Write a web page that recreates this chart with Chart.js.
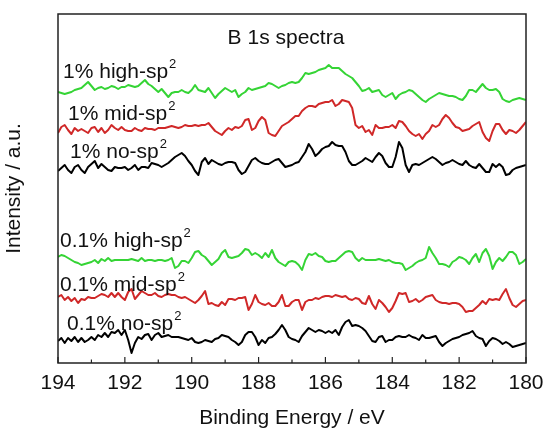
<!DOCTYPE html>
<html>
<head>
<meta charset="utf-8">
<script src="https://cdn.jsdelivr.net/npm/chart.js@4.4.1/dist/chart.umd.min.js"></script>
<style>
  body { margin: 0; background: #fff; }
  #wrap { width: 544px; height: 429px; }
</style>
</head>
<body>
<div id="wrap"><canvas id="spectra" width="544" height="429"></canvas></div>
<script>
// binding energy axis, 0.1 eV step from 194 down to 180
const energies = [];
for (let i = 0; i <= 140; i++) energies.push(+(194 - i * 0.1).toFixed(1));

// B 1s intensities (a.u., curves already offset for stacking)
const high1 = [271,270,269,270,271,273,274,275,278,281, 277,273,275,276,274,275,277,276,274,276,
  276,278,277,276,277,280,283,279,277,274, 271,274,270,266,270,271,271,273,271,270,
  273,278,273,272,271,275,270,265,269,272, 275,273,271,273,266,269,271,275,273,274,
  275,276,277,280,279,277,275,277,278,280, 281,280,281,285,290,289,290,291,293,294,
  295,298,295,295,295,292,289,287,285,281, 277,272,273,275,271,272,273,268,266,268,
  270,264,268,270,271,273,272,269,266,263, 261,264,266,268,270,269,268,267,267,266,
  264,263,267,273,273,271,275,279,275,273, 273,274,271,264,262,261,263,264,265,264, 263];
const mid1 = [230,236,238,233,229,235,232,234,232,230, 235,236,231,235,230,233,238,235,233,236,
  233,232,232,235,233,232,235,234,234,233, 235,235,235,236,237,236,235,236,238,237,
  237,238,237,238,238,240,236,232,230,228, 232,235,233,236,235,237,243,244,233,235,
  242,246,243,230,228,227,232,237,239,241, 244,247,247,252,255,257,257,256,259,260,
  261,261,263,257,259,263,262,261,255,238, 235,237,231,233,228,238,235,235,236,236,
  238,235,242,241,237,232,229,227,229,224, 229,232,238,236,238,244,248,245,240,236,
  235,232,233,234,237,239,241,231,225,222, 232,239,239,233,229,233,232,230,233,237, 241];
const none1 = [192,195,198,193,190,196,198,193,190,196, 199,202,195,199,196,193,192,196,195,195,
  196,193,195,198,193,196,196,195,200,199, 198,196,198,200,203,206,208,210,207,202,
  198,192,188,201,205,199,203,201,199,198, 200,201,201,200,193,189,191,197,203,205,
  202,200,199,199,201,203,204,200,196,197, 198,200,201,206,211,219,214,207,210,214,
  216,217,221,218,217,217,211,202,198,198, 200,202,205,203,201,206,210,207,200,196,
  196,206,221,215,198,191,198,199,198,200, 202,204,206,204,201,198,200,201,203,201,
  199,198,202,198,196,195,199,195,191,191, 199,196,199,196,188,189,193,195,196,197, 198];
const high01 = [106,108,107,105,103,101,100,98,99,100, 101,103,100,104,102,105,102,103,103,103,
  103,103,104,103,102,105,102,103,103,102, 103,103,102,103,105,95,97,102,102,100,
  105,111,112,108,106,102,98,101,104,110, 113,106,105,106,107,110,114,113,108,110,
  108,105,110,106,113,105,101,99,97,101, 102,101,98,93,103,109,108,110,107,106,
  102,101,102,102,105,108,111,112,111,105, 102,105,103,103,103,103,104,103,102,103,
  101,100,100,99,93,95,97,100,102,103, 105,116,110,105,99,99,98,96,101,103,
  106,105,103,99,105,109,101,110,114,107, 94,101,105,102,106,111,111,108,99,101, 104];
const mid01 = [66,68,63,66,62,65,60,64,63,66, 65,65,67,69,68,66,70,66,70,66,
  63,71,74,64,68,72,70,68,68,70, 67,66,68,69,68,68,66,65,66,64,
  62,60,63,67,72,59,60,58,57,61, 58,64,64,63,65,65,66,53,59,68,
  61,59,58,60,57,57,61,68,57,57, 61,63,63,53,61,63,63,65,64,66,
  67,67,66,68,67,66,67,64,63,65, 64,60,59,67,59,54,63,60,56,51,
  55,62,70,69,70,61,62,64,61,63, 66,67,68,63,61,60,60,59,60,60,
  59,56,51,52,52,55,58,62,59,64, 63,64,63,69,74,65,58,56,59,62, 63];
const none01 = [22,25,20,25,22,26,21,25,21,23, 26,23,28,26,30,26,31,30,33,28,
  33,23,10,20,26,24,28,29,23,28, 30,26,27,28,26,26,26,25,24,23,
  25,21,20,21,23,22,21,24,25,28, 27,26,23,21,18,21,28,31,31,26,
  18,23,20,25,26,29,33,38,33,26, 24,23,21,27,31,35,33,31,33,32,
  30,32,30,33,28,36,41,43,37,38, 37,35,32,27,22,21,26,27,21,23,
  23,26,27,26,26,28,26,25,23,28, 25,25,26,27,21,17,20,22,24,25,
  26,28,29,30,32,27,25,24,17,22, 25,24,22,19,21,19,16,17,18,19, 20];

const GREEN = '#35d435';
const RED = '#d02828';
const BLACK = '#000000';
const FONT = '"Liberation Sans", Arial, sans-serif';

// curve labels: [prefix, energy at left edge, baseline intensity]
const labels = [
  ['1% high-sp', 193.85, 285],
  ['1% mid-sp', 193.70, 243],
  ['1% no-sp', 193.64, 205],
  ['0.1% high-sp', 193.94, 116],
  ['0.1% mid-sp', 193.94, 72],
  ['0.1% no-sp', 193.73, 33]
];

function series(label, values, color) {
  return {
    label,
    data: energies.map((e, i) => ({ x: e, y: values[i] })),
    borderColor: color,
    borderWidth: 2,
    pointRadius: 0,
    tension: 0,
    borderJoinStyle: 'round'
  };
}

// frame, inward ticks, panel title and the sp² labels
const decorations = {
  id: 'decorations',
  afterDatasetsDraw(chart) {
    const { ctx, chartArea: a, scales: { x, y } } = chart;
    ctx.save();
    ctx.strokeStyle = '#222';
    ctx.lineWidth = 1.5;
    ctx.strokeRect(a.left, a.top, a.right - a.left, a.bottom - a.top);
    ctx.lineWidth = 1.2;
    for (let e = 180; e <= 194; e++) {
      const px = x.getPixelForValue(e);
      const len = e % 2 === 0 ? 6 : 3.5;
      ctx.beginPath();
      ctx.moveTo(px, a.bottom);
      ctx.lineTo(px, a.bottom - len);
      ctx.stroke();
    }

    ctx.fillStyle = '#111';
    ctx.textBaseline = 'alphabetic';
    ctx.textAlign = 'center';
    ctx.font = '21px ' + FONT;
    ctx.fillText('B 1s spectra', x.getPixelForValue(187.18), y.getPixelForValue(319));

    ctx.textAlign = 'left';
    labels.forEach(([text, e, base]) => {
      const px = x.getPixelForValue(e);
      const py = y.getPixelForValue(base);
      ctx.font = '21px ' + FONT;
      ctx.fillText(text, px, py);
      const w = ctx.measureText(text).width;
      ctx.font = '13px ' + FONT;
      ctx.fillText('2', px + w + 1, py - 10);
    });
    ctx.restore();
  }
};

new Chart(document.getElementById('spectra'), {
  type: 'line',
  data: {
    datasets: [
      series('1% high-sp2', high1, GREEN),
      series('1% mid-sp2', mid1, RED),
      series('1% no-sp2', none1, BLACK),
      series('0.1% high-sp2', high01, GREEN),
      series('0.1% mid-sp2', mid01, RED),
      series('0.1% no-sp2', none01, BLACK)
    ]
  },
  options: {
    responsive: false,
    animation: false,
    layout: { padding: { top: 14, right: 0, left: 0, bottom: 0 } },
    plugins: {
      legend: { display: false },
      tooltip: { enabled: false }
    },
    scales: {
      x: {
        type: 'linear',
        min: 180,
        max: 194,
        reverse: true,
        grid: { display: false, drawTicks: false },
        border: { display: false },
        ticks: {
          stepSize: 2,
          color: '#111',
          padding: 8,
          font: { family: FONT, size: 21 }
        },
        title: {
          display: true,
          text: 'Binding Energy / eV',
          color: '#111',
          padding: { top: 0, bottom: 0 },
          font: { family: FONT, size: 21, lineHeight: 1 }
        },
        afterFit(scale) {
          scale.height = 66;
          // only leave room for half of the "180" label on the right
          scale.paddingRight = 18;
        }
      },
      y: {
        min: 0,
        max: 349,
        grid: { display: false, drawTicks: false },
        border: { display: false },
        ticks: { display: false },
        title: {
          display: true,
          text: 'Intensity / a.u.',
          color: '#111',
          padding: { top: 2, bottom: 0 },
          font: { family: FONT, size: 21 }
        },
        afterFit(scale) { scale.width = 58; }
      }
    }
  },
  plugins: [decorations]
});
</script>
</body>
</html>
